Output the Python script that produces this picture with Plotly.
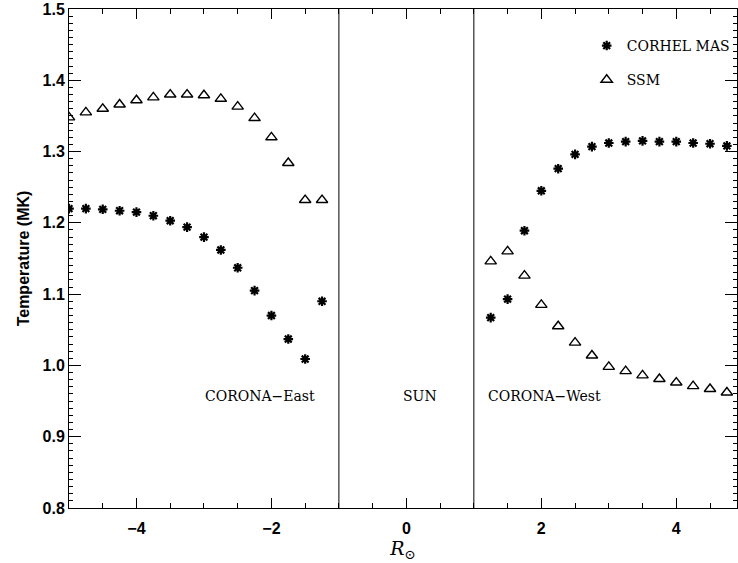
import plotly.graph_objects as go

east_x = [-5.0, -4.75, -4.5, -4.25, -4.0, -3.75, -3.5, -3.25, -3.0, -2.75, -2.5, -2.25, -2.0, -1.75, -1.5, -1.25]
east_mas = [1.220, 1.220, 1.219, 1.217, 1.215, 1.210, 1.203, 1.194, 1.180, 1.162, 1.137, 1.105, 1.070, 1.037, 1.009, 1.090]
east_ssm = [1.348, 1.355, 1.360, 1.366, 1.372, 1.376, 1.380, 1.380, 1.379, 1.374, 1.363, 1.347, 1.320, 1.284, 1.232, 1.232]

west_x = [1.25, 1.5, 1.75, 2.0, 2.25, 2.5, 2.75, 3.0, 3.25, 3.5, 3.75, 4.0, 4.25, 4.5, 4.75]
west_mas = [1.067, 1.093, 1.189, 1.245, 1.276, 1.296, 1.307, 1.312, 1.314, 1.315, 1.314, 1.314, 1.312, 1.311, 1.308]
west_ssm = [1.146, 1.160, 1.126, 1.085, 1.055, 1.032, 1.014, 0.998, 0.992, 0.986, 0.981, 0.976, 0.971, 0.967, 0.962]

region_bounds = [-1, 1]
region_labels = ["CORONA\u2212East", "SUN", "CORONA\u2212West"]
region_label_x = [-2.17, 0.2, 2.04]
region_label_y = [0.957, 0.957, 0.957]

x_ticks = [-4, -2, 0, 2, 4]
x_ticklabels = ["\u22124", "\u22122", "0", "2", "4"]
y_ticks = [0.8, 0.9, 1.0, 1.1, 1.2, 1.3, 1.4, 1.5]

serif = "DejaVu Serif"
sans = "Liberation Sans"

fig = go.Figure()
fig.add_trace(go.Scatter(
    x=east_x + west_x, y=east_mas + west_mas, mode="markers", name="CORHEL MAS", legendgroup="a",
    marker=dict(symbol="asterisk-open", size=8, color="black", line=dict(color="black", width=2.2)),
))
fig.add_trace(go.Scatter(
    x=east_x + west_x, y=east_ssm + west_ssm, mode="markers", name="SSM", legendgroup="b",
    marker=dict(symbol="triangle-up-open", size=10, color="black", line=dict(color="black", width=1.4)),
))

for b in region_bounds:
    fig.add_shape(type="line", x0=b, x1=b, y0=0.8, y1=1.5, xref="x", yref="y",
                  line=dict(color="black", width=1))

for t, xx, yy in zip(region_labels, region_label_x, region_label_y):
    fig.add_annotation(x=xx, y=yy, text=t, showarrow=False, xref="x", yref="y",
                       font=dict(family=serif, size=14, color="black"))

axis_common = dict(showgrid=False, zeroline=False, showline=True, linecolor="black", linewidth=1,
                   ticks="inside", mirror="ticks", tickcolor="black",
                   tickfont=dict(family=sans, size=16, color="black", weight="bold"))

fig.update_layout(
    width=738, height=563,
    margin=dict(l=69, r=1, t=9, b=55),
    paper_bgcolor="white", plot_bgcolor="white",
    showlegend=True,
    legend=dict(x=0.775, y=0.958, xanchor="left", yanchor="top", bgcolor="rgba(0,0,0,0)",
                font=dict(family=serif, size=14, color="black"), itemwidth=30, tracegroupgap=13),
    xaxis=dict(range=[-5, 4.9], tickvals=x_ticks, ticktext=x_ticklabels, ticklen=10,
               ticklabelstandoff=6,
               minor=dict(dtick=0.5, ticklen=5, ticks="inside", tickcolor="black"),
               title=dict(text="<i>R</i><sub>\u2299</sub>", font=dict(family=serif, size=19, color="black"), standoff=0),
               **axis_common),
    yaxis=dict(range=[0.8, 1.5], tickvals=y_ticks, tickformat=".1f", ticklen=12,
               minor=dict(dtick=0.01, ticklen=4, ticks="inside", tickcolor="black"),
               title=dict(text="<b>Temperature (MK)</b>", font=dict(family=sans, size=16, color="black"), standoff=8),
               **axis_common),
)

fig.write_html("out.html")
